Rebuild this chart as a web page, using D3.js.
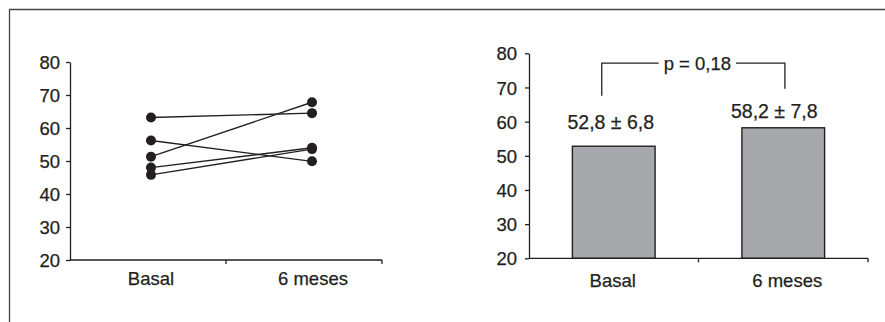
<!DOCTYPE html>
<html>
<head>
<meta charset="utf-8">
<script src="https://cdn.jsdelivr.net/npm/d3@7"></script>
<style>
  html, body { margin: 0; padding: 0; background: #fff; }
  svg text { font-family: "Liberation Sans", Arial, sans-serif; fill: #231f20; stroke: #231f20; stroke-width: 0.25px; }
</style>
</head>
<body>
<svg id="chart" width="885" height="322"></svg>
<script>
// Periods compared
const categories = ["Basal", "6 meses"];
// Individual patients: value at baseline and at 6 months
const basalValues = [63.2, 56.2, 51.3, 48.0, 45.8];
const sixMonthValues = [64.5, 49.9, 67.8, 54.0, 53.6];
// Group means and standard deviations
const meanValues = [52.8, 58.2];
const sdValues = [6.8, 7.8];
const pValue = "0,18";
// Shared axis ticks
const yTicks = [20, 30, 40, 50, 60, 70, 80];

const ink = "#231f20";
const svg = d3.select("#chart");

// Frame around the figure
svg.append("path")
  .attr("d", "M9.5,322 V9.5 H885")
  .attr("fill", "none").attr("stroke", "#444").attr("stroke-width", 1.3);

const fmt = v => v.toFixed(1).replace(".", ",");

function drawYAxis(g, y, x0, pad) {
  const ax = g.append("g").attr("transform", `translate(${x0},0)`)
    .call(d3.axisLeft(y).tickValues(yTicks).tickSize(4).tickSizeOuter(0).tickPadding(pad));
  ax.select(".domain").attr("stroke", ink).attr("stroke-width", 1.3);
  ax.selectAll(".tick line").attr("stroke", ink).attr("stroke-width", 1.3);
  ax.selectAll(".tick text").attr("font-size", 18.5).attr("dy", "0.36em");
  return ax;
}

function drawXAxis(g, x0, x1, boundaries, yPos) {
  g.append("line").attr("x1", x0).attr("x2", x1).attr("y1", yPos).attr("y2", yPos)
    .attr("stroke", ink).attr("stroke-width", 1.3);
  g.selectAll(null).data(boundaries).join("line")
    .attr("x1", d => d).attr("x2", d => d)
    .attr("y1", yPos).attr("y2", yPos + 4)
    .attr("stroke", ink).attr("stroke-width", 1.3);
}

// ---------- Left panel: paired individual values ----------
{
  const g = svg.append("g");
  const y = d3.scaleLinear().domain([20, 80]).range([260, 62]);
  const band = d3.scaleBand().domain(categories).range([70, 382]);
  const xp = d3.scalePoint().domain(categories).range([151, 312]);

  drawYAxis(g, y, 70, 6);
  drawXAxis(g, 70, 382, [band(categories[1]), band.range()[1]], y(20));

  g.selectAll(null).data(categories).join("text")
    .attr("x", d => xp(d) + (d === categories[1] ? 1 : 0)).attr("y", 285)
    .attr("text-anchor", "middle").attr("font-size", 18.5)
    .text(d => d);

  const pairs = basalValues.map((b, i) => [b, sixMonthValues[i]]);
  g.selectAll(null).data(pairs).join("line")
    .attr("x1", xp(categories[0])).attr("x2", xp(categories[1]))
    .attr("y1", d => y(d[0])).attr("y2", d => y(d[1]))
    .attr("stroke", ink).attr("stroke-width", 1.4);

  const dots = [
    ...basalValues.map(v => ({ c: categories[0], v })),
    ...sixMonthValues.map(v => ({ c: categories[1], v }))
  ];
  g.selectAll(null).data(dots).join("circle")
    .attr("cx", d => xp(d.c)).attr("cy", d => y(d.v)).attr("r", 5)
    .attr("fill", ink);
}

// ---------- Right panel: means ----------
{
  const g = svg.append("g");
  const y = d3.scaleLinear().domain([20, 80]).range([258.3, 53.3]);
  const x = d3.scaleBand().domain(categories).range([529, 868])
    .paddingInner(0.512).paddingOuter(0.256);
  const bw = x.bandwidth();
  const boundary = (x(categories[0]) + bw + x(categories[1])) / 2;

  drawYAxis(g, y, 529, 8);

  g.selectAll(null).data(meanValues).join("rect")
    .attr("x", (d, i) => x(categories[i]))
    .attr("y", d => y(d))
    .attr("width", bw)
    .attr("height", d => y(20) - y(d))
    .attr("fill", "#a7a8ab").attr("stroke", ink).attr("stroke-width", 1.4);

  drawXAxis(g, 529, 868, [boundary, 868], y(20));

  g.selectAll(null).data(categories).join("text")
    .attr("x", d => x(d) + bw / 2 + (d === categories[1] ? 4 : -1)).attr("y", 287)
    .attr("text-anchor", "middle").attr("font-size", 18.5)
    .text(d => d);

  // mean ± SD labels above the bars
  const labelLift = [17, 10];
  const labelShift = [-3, -9];
  g.selectAll(null).data(meanValues).join("text")
    .attr("x", (d, i) => x(categories[i]) + bw / 2 + labelShift[i])
    .attr("y", (d, i) => y(d) - labelLift[i])
    .attr("text-anchor", "middle").attr("font-size", 19.5)
    .text((d, i) => `${fmt(d)} \u00B1 ${fmt(sdValues[i])}`);

  // significance bracket
  const leftX = x(categories[0]) + bw * 0.355;
  const rightX = x(categories[1]) + bw * 0.52;
  const topY = y(77.1);
  const pText = g.append("text")
    .attr("x", (leftX + rightX) / 2 + 4).attr("y", topY + 7)
    .attr("text-anchor", "middle").attr("font-size", 18.5)
    .text(`p = ${pValue}`);
  const bb = pText.node().getBBox();
  g.append("path")
    .attr("d", `M${leftX},${y(67.6)} V${topY} H${bb.x - 5} M${bb.x + bb.width + 5},${topY} H${rightX} V${y(69.6)}`)
    .attr("fill", "none").attr("stroke", ink).attr("stroke-width", 1.3);
}
</script>
</body>
</html>
